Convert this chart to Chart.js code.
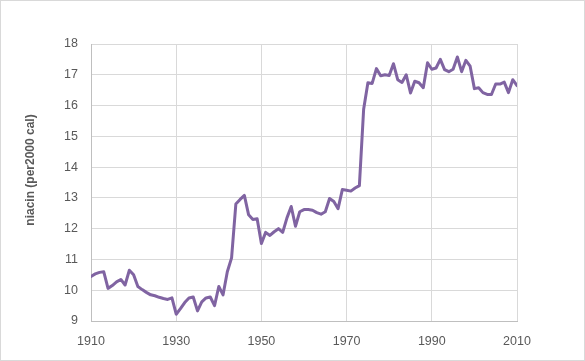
<!DOCTYPE html>
<html>
<head>
<meta charset="utf-8">
<script src="https://cdn.jsdelivr.net/npm/chart.js@4/dist/chart.umd.min.js"></script>
<style>
html,body{margin:0;padding:0;background:#fff;}
#wrap{width:585px;height:361px;position:relative;}
</style>
</head>
<body>
<div id="wrap"><canvas id="c" width="585" height="361"></canvas></div>
<script>
const years = [];
for (let y = 1910; y <= 2010; y++) years.push(y);
const niacin = [
  10.45, 10.53, 10.58, 10.6, 10.06, 10.15, 10.27, 10.35, 10.17, 10.65,
  10.5, 10.12, 10.02, 9.93, 9.85, 9.82, 9.77, 9.73, 9.7, 9.75,
  9.22, 9.4, 9.6, 9.75, 9.78, 9.33, 9.62, 9.75, 9.78, 9.5,
  10.12, 9.85, 10.6, 11.05, 12.8, 12.95, 13.08, 12.45, 12.3, 12.32,
  11.52, 11.88, 11.78, 11.9, 12.0, 11.88, 12.35, 12.72, 12.08, 12.55,
  12.62, 12.62, 12.6, 12.52, 12.47, 12.55, 12.98, 12.88, 12.65, 13.27,
  13.25, 13.22, 13.32, 13.4, 15.88, 16.74, 16.72, 17.2, 16.97, 17.0,
  16.98, 17.36, 16.84, 16.75, 17.0, 16.41, 16.79, 16.74, 16.58, 17.39,
  17.18, 17.22, 17.5, 17.17, 17.1, 17.18, 17.58, 17.1, 17.47, 17.28,
  16.55, 16.58, 16.42, 16.36, 16.36, 16.7, 16.7, 16.76, 16.42, 16.84,
  16.65
];
const xTicks = [1910, 1930, 1950, 1970, 1990, 2010];
const yTitle = 'niacin (per2000 cal)';

const FONT = "'Liberation Sans', Arial, sans-serif";

const extras = {
  id: 'extras',
  afterDraw(chart) {
    const ctx = chart.ctx;
    ctx.save();
    ctx.strokeStyle = '#d9d9d9';
    ctx.lineWidth = 1;
    ctx.strokeRect(0.5, 0.5, chart.width - 1, chart.height - 1);
    ctx.translate(31, 170);
    ctx.rotate(-Math.PI / 2);
    ctx.fillStyle = '#595959';
    ctx.font = 'bold 12px ' + FONT;
    ctx.textAlign = 'center';
    ctx.textBaseline = 'middle';
    ctx.fillText(yTitle, 0, 0);
    ctx.restore();
  }
};

new Chart(document.getElementById('c'), {
  type: 'line',
  data: {
    datasets: [{
      data: years.map((y, i) => ({x: y, y: niacin[i]})),
      borderColor: '#8064A2',
      borderWidth: 3,
      borderJoinStyle: 'round',
      borderCapStyle: 'round',
      pointRadius: 0,
      tension: 0,
      fill: false
    }]
  },
  options: {
    responsive: false,
    animation: false,
    layout: {padding: {left: 0, top: 44, right: 68, bottom: 0}},
    plugins: {legend: {display: false}, tooltip: {enabled: false}},
    scales: {
      x: {
        type: 'linear',
        min: 1910, max: 2010,
        afterBuildTicks: s => { s.ticks = xTicks.map(v => ({value: v})); },
        afterFit: s => { s.height = 40; },
        grid: {color: '#d9d9d9', lineWidth: 1, drawTicks: false},
        border: {color: '#bfbfbf', width: 1},
        ticks: {
          padding: 13, maxRotation: 0, autoSkip: false,
          color: '#595959', font: {family: FONT, size: 12.5},
          callback: v => String(v)
        }
      },
      y: {
        min: 9, max: 18,
        afterFit: s => { s.width = 91; },
        grid: {color: '#d9d9d9', lineWidth: 1, drawTicks: false},
        border: {color: '#bfbfbf', width: 1},
        ticks: {
          stepSize: 1, padding: 13,
          color: '#595959', font: {family: FONT, size: 12.5}
        }
      }
    }
  },
  plugins: [extras]
});
</script>
</body>
</html>
